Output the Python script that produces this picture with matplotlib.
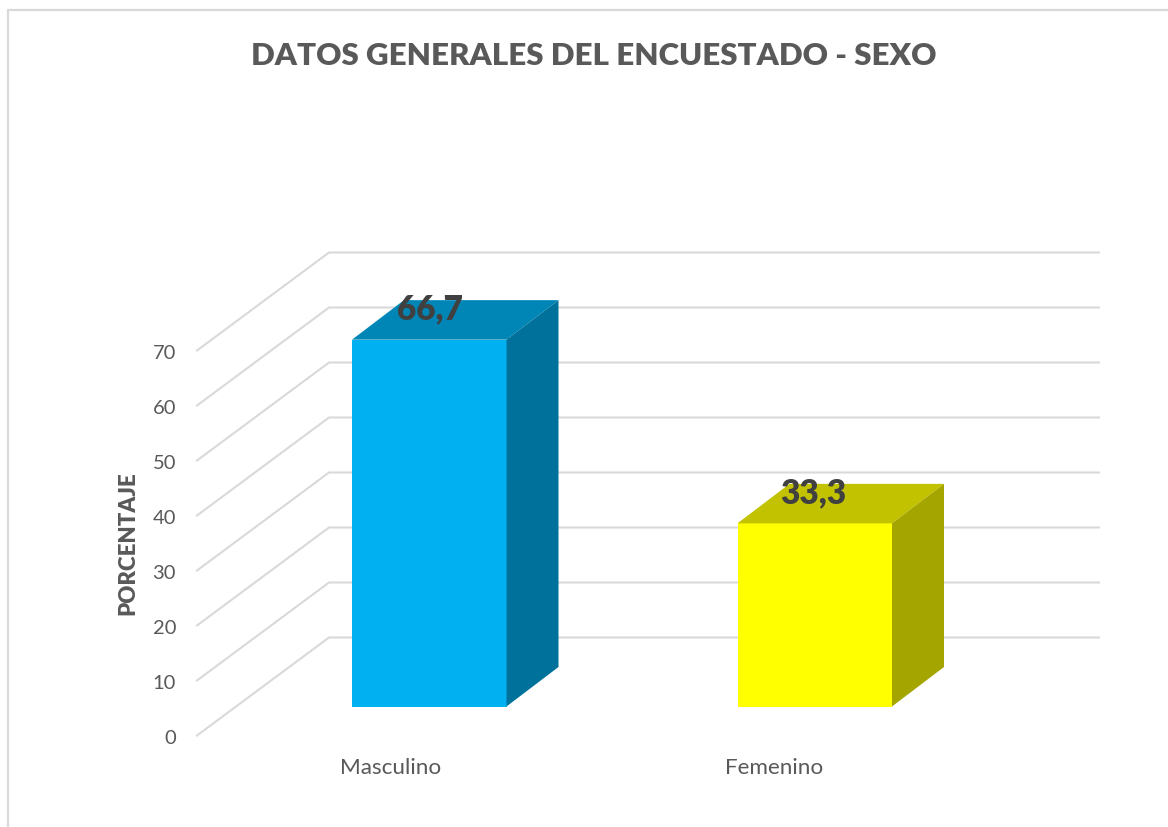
import matplotlib
matplotlib.use("Agg")
import matplotlib.pyplot as plt
from matplotlib.patches import Polygon

plt.rcParams['font.family'] = ['Lato', 'DejaVu Sans']

title = "DATOS GENERALES DEL ENCUESTADO - SEXO"
y_label = "PORCENTAJE"
categories = ["Masculino", "Femenino"]
values = [66.7, 33.3]
value_labels = ["66,7", "33,3"]
y_ticks = [0, 10, 20, 30, 40, 50, 60, 70]

W, H = 1168, 828
PX_PER_UNIT = 5.5
Y0_PX = 736.5
GREY = "#595959"
GRID = "#D9D9D9"

fig = plt.figure(figsize=(W / 100, H / 100), dpi=100, facecolor="white")
ax = fig.add_axes([0, 0, 1, 1])
ax.set_xlim(0, W)
ax.set_ylim(-(H - Y0_PX) / PX_PER_UNIT, Y0_PX / PX_PER_UNIT)
ax.axis("off")

U = PX_PER_UNIT
# chart frame (x pixels, y in value units)
ax.plot([7.5, 7.5, W], [-(H - Y0_PX) / U, (Y0_PX - 10.5) / U, (Y0_PX - 10.5) / U],
        color=GRID, lw=1.6, solid_capstyle="butt", zorder=1)

# oblique walls
wall_left, wall_back, wall_right = 197, 329, 1099
wall_rise = 98 / U
for t in y_ticks:
    ax.plot([wall_left, wall_back, wall_right], [t, t + wall_rise, t + wall_rise],
            color=GRID, lw=1.5, solid_joinstyle="miter", zorder=2)
    ax.text(176, t - 2.5 / U, str(t), ha="right", va="center", fontsize=14.5, color=GREY)

# bars
bar_lefts = [352, 737.5]
bar_width = 154.5
depth_x, depth_y = 52, 39.5 / U
floor = 29 / U
faces = [("#00B0F0", "#0086B6", "#00719B"), ("#FFFF00", "#C2C200", "#A5A500")]
cat_x = [390.5, 774.5]
label_shift = [77.5, 76]
for left, v, lab, cat, cx, ls, (front, top, side) in zip(bar_lefts, values, value_labels,
                                                        categories, cat_x, label_shift, faces):
    right = left + bar_width
    base = floor
    tip = floor + v
    ax.add_patch(Polygon([(left, base), (right, base), (right, tip), (left, tip)],
                         closed=True, fc=front, ec="none", zorder=4))
    ax.add_patch(Polygon([(left, tip), (right, tip), (right + depth_x, tip + depth_y),
                          (left + depth_x, tip + depth_y)],
                         closed=True, fc=top, ec="none", zorder=4))
    ax.add_patch(Polygon([(right, base), (right + depth_x, base + depth_y),
                          (right + depth_x, tip + depth_y), (right, tip)],
                         closed=True, fc=side, ec="none", zorder=4))
    ax.text(left + ls, tip + 31 / U, lab, ha="center", va="center", fontsize=24,
            fontweight="heavy", color="#404040", zorder=5)
    ax.text(cx, -31.5 / U, cat, ha="center", va="center", fontsize=16.2, color=GREY)

ax.text(127.5, (Y0_PX - 543) / U, y_label, rotation=90, ha="center", va="center",
        fontsize=16, fontweight="heavy", color=GREY)
ax.text(594, (Y0_PX - 56) / U, title, ha="center", va="center", fontsize=22.5,
        fontweight="heavy", color=GREY)

fig.savefig("out.png", dpi=100, facecolor="white")
